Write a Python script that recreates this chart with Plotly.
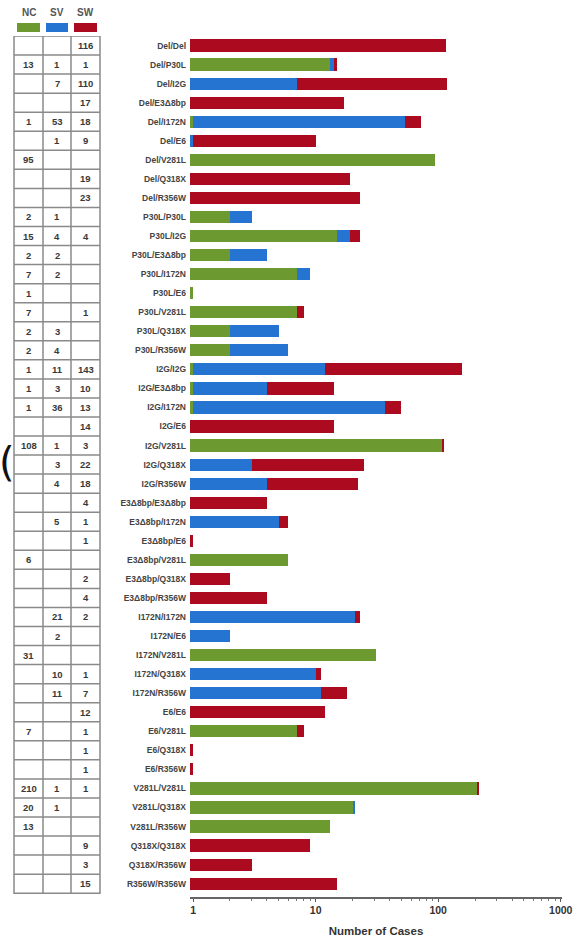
import plotly.graph_objects as go

# Genotype combinations (top to bottom) and case counts per phenotype group
genotypes = [
    "Del/Del", "Del/P30L", "Del/I2G", "Del/E3Δ8bp", "Del/I172N", "Del/E6",
    "Del/V281L", "Del/Q318X", "Del/R356W",
    "P30L/P30L", "P30L/I2G", "P30L/E3Δ8bp", "P30L/I172N", "P30L/E6",
    "P30L/V281L", "P30L/Q318X", "P30L/R356W",
    "I2G/I2G", "I2G/E3Δ8bp", "I2G/I172N", "I2G/E6", "I2G/V281L",
    "I2G/Q318X", "I2G/R356W",
    "E3Δ8bp/E3Δ8bp", "E3Δ8bp/I172N", "E3Δ8bp/E6", "E3Δ8bp/V281L",
    "E3Δ8bp/Q318X", "E3Δ8bp/R356W",
    "I172N/I172N", "I172N/E6", "I172N/V281L", "I172N/Q318X", "I172N/R356W",
    "E6/E6", "E6/V281L", "E6/Q318X", "E6/R356W",
    "V281L/V281L", "V281L/Q318X", "V281L/R356W",
    "Q318X/Q318X", "Q318X/R356W",
    "R356W/R356W",
]

nc = [0, 13, 0, 0, 1, 0, 95, 0, 0,
      2, 15, 2, 7, 1, 7, 2, 2,
      1, 1, 1, 0, 108, 0, 0,
      0, 0, 0, 6, 0, 0,
      0, 0, 31, 0, 0,
      0, 7, 0, 0,
      210, 20, 13,
      0, 0,
      0]
sv = [0, 1, 7, 0, 53, 1, 0, 0, 0,
      1, 4, 2, 2, 0, 0, 3, 4,
      11, 3, 36, 0, 1, 3, 4,
      0, 5, 0, 0, 0, 0,
      21, 2, 0, 10, 11,
      0, 0, 0, 0,
      1, 1, 0,
      0, 0,
      0]
sw = [116, 1, 110, 17, 18, 9, 0, 19, 23,
      0, 4, 0, 0, 0, 1, 0, 0,
      143, 10, 13, 14, 3, 22, 18,
      4, 1, 1, 0, 2, 4,
      2, 0, 0, 1, 7,
      12, 1, 1, 1,
      1, 0, 0,
      9, 3,
      15]

groups = ["NC", "SV", "SW"]
colors = {"NC": "#6C9A30", "SV": "#2574D2", "SW": "#AC0A1F"}
counts = {"NC": nc, "SV": sv, "SW": sw}

x_ticks = [1, 10, 100, 1000]
x_title = "Number of Cases"

W, H = 574, 938
L, R, T, B = 190, 12, 36, 41
PW = W - L - R
PH = H - T - B


def px_x(p):
    return (p - L) / PW


def px_y(p):
    return 1 - (p - T) / PH


fig = go.Figure()
for g in groups:
    fig.add_trace(go.Bar(
        y=genotypes, x=counts[g], orientation="h", name=g,
        marker=dict(color=colors[g], line=dict(width=0)),
        showlegend=False,
    ))

n = len(genotypes)
font_family = "Liberation Sans, Arial, sans-serif"
label_font = dict(family=font_family, size=9.5, color="#383838")

# Count table to the left of the bars
col_edges = [14, 43, 71, 100]
grid_col = "#8a8a8a"
shapes = []
shapes.append(dict(type="rect", xref="paper", yref="y",
                   x0=px_x(col_edges[0]), x1=px_x(col_edges[-1]),
                   y0=-0.5, y1=n - 0.5, line=dict(color=grid_col, width=1.5)))
for ce in col_edges[1:-1]:
    shapes.append(dict(type="line", xref="paper", yref="y",
                       x0=px_x(ce), x1=px_x(ce), y0=-0.5, y1=n - 0.5,
                       line=dict(color=grid_col, width=1.5)))
for i in range(1, n):
    shapes.append(dict(type="line", xref="paper", yref="y",
                       x0=px_x(col_edges[0]), x1=px_x(col_edges[-1]),
                       y0=i - 0.5, y1=i - 0.5,
                       line=dict(color=grid_col, width=1.5)))

annotations = []
for j, g in enumerate(groups):
    cx = (col_edges[j] + col_edges[j + 1]) / 2
    annotations.append(dict(text="<b>%s</b>" % g, xref="paper", yref="paper",
                            x=px_x(cx), y=px_y(12), showarrow=False,
                            font=dict(family=font_family, size=10, color="#555"),
                            xanchor="center", yanchor="middle"))
    shapes.append(dict(type="rect", xref="paper", yref="paper",
                       x0=px_x(col_edges[j] + 3), x1=px_x(col_edges[j + 1] - 3),
                       y0=px_y(23), y1=px_y(32),
                       fillcolor=colors[g], line=dict(width=0)))
    for i, gt in enumerate(genotypes):
        v = counts[g][i]
        if v:
            annotations.append(dict(text="<b>%d</b>" % v, xref="paper", yref="y",
                                    x=px_x(cx), y=gt, showarrow=False,
                                    font=label_font,
                                    xanchor="center", yanchor="middle"))

# Stray bracket mark at the left edge
annotations.append(dict(text="(", xref="paper", yref="paper",
                        x=px_x(-3), y=px_y(462), showarrow=False,
                        font=dict(family="DejaVu Sans", size=40, color="#111"),
                        xanchor="left", yanchor="middle"))

minor_vals = [m * 10 ** e for e in range(3) for m in range(2, 10)]

fig.update_layout(
    width=W, height=H,
    margin=dict(l=L, r=R, t=T, b=B, pad=0, autoexpand=False),
    paper_bgcolor="white", plot_bgcolor="white",
    barmode="stack", bargap=0.36,
    shapes=shapes, annotations=annotations,
    xaxis=dict(
        type="log", range=[-0.025, 3.01], automargin=False,
        tickvals=x_ticks, ticktext=["<b>%d</b>" % t for t in x_ticks],
        ticks="outside", ticklen=3, tickcolor="#555",
        showline=True, linecolor="#666", linewidth=1.5,
        showgrid=False, zeroline=False,
        tickfont=dict(family=font_family, size=10.5, color="#333"),
        minor=dict(tickvals=minor_vals, ticks="outside", ticklen=2, tickcolor="#777",
                   showgrid=False),
        title=dict(text="<b>%s</b>" % x_title, standoff=12,
                   font=dict(family=font_family, size=11.5, color="#333")),
    ),
    yaxis=dict(
        type="category", autorange=False, range=[n - 0.3, -0.5], automargin=False,
        showline=False, showgrid=False, zeroline=False, ticks="",
        ticklabelstandoff=3,
        tickvals=genotypes, ticktext=["<b>%s</b>" % g for g in genotypes],
        tickfont=dict(family=font_family, size=8.5, color="#444"),
    ),
)

fig.write_html("out.html")
